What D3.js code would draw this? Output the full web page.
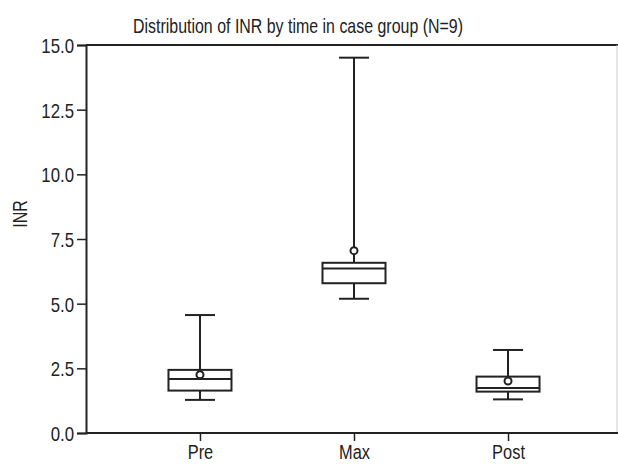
<!DOCTYPE html>
<html>
<head>
<meta charset="utf-8">
<script src="https://cdn.jsdelivr.net/npm/d3@7"></script>
<style>
  html, body { margin: 0; padding: 0; background: #fff; }
  svg { display: block; }
  text { font-family: "Liberation Sans", Arial, sans-serif; fill: #222; }
</style>
</head>
<body>
<svg id="chart" width="618" height="464"></svg>
<script>
const categories = ["Pre", "Max", "Post"];
const whiskerLow  = [1.28, 5.19, 1.30];
const q1Values    = [1.64, 5.79, 1.60];
const medianVals  = [2.09, 6.36, 1.74];
const q3Values    = [2.44, 6.58, 2.18];
const whiskerHigh = [4.56, 14.51, 3.21];
const meanValues  = [2.25, 7.05, 2.01];
const yTicks = [0, 2.5, 5, 7.5, 10, 12.5, 15];
const titleText = "Distribution of INR by time in case group (N=9)";
const yLabel = "INR";

const W = 618, H = 464;
const padL = 86, padT = 45, padB = 433, padR = 617;
const ink = "#222";

const svg = d3.select("#chart");

const y = d3.scaleLinear().domain([0, 15]).range([padB, padT]);
const x = d3.scalePoint().domain(categories).range([padL, 622]).padding(0.74);

const data = categories.map((c, i) => ({
  c, lo: whiskerLow[i], q1: q1Values[i], med: medianVals[i],
  q3: q3Values[i], hi: whiskerHigh[i], mean: meanValues[i]
}));

function condense(sel, k) {
  sel.each(function() {
    const w = this.getComputedTextLength();
    d3.select(this).attr("textLength", w * k).attr("lengthAdjust", "spacingAndGlyphs");
  });
}

// frame top and right
svg.append("line").attr("x1", padL).attr("x2", W).attr("y1", padT).attr("y2", padT)
  .attr("stroke", ink).attr("stroke-width", 2);
svg.append("line").attr("x1", padR).attr("x2", padR).attr("y1", padT).attr("y2", padB)
  .attr("stroke", "#ccc").attr("stroke-width", 1);

// y axis
const yAxis = svg.append("g").attr("transform", `translate(${padL},0)`)
  .call(d3.axisLeft(y).tickValues(yTicks).tickFormat(d3.format(".1f")).tickSize(9).tickPadding(3));
yAxis.select(".domain").attr("stroke", ink).attr("stroke-width", 2);
yAxis.selectAll(".tick line").attr("stroke", ink).attr("stroke-width", 1.5);
yAxis.selectAll(".tick text").attr("font-size", 21).attr("fill", ink)
  .style("font-family", "'Liberation Sans', Arial, sans-serif").attr("dy", "0.36em");
condense(yAxis.selectAll(".tick text"), 0.8);

// x axis
const xAxis = svg.append("g").attr("transform", `translate(0,${padB})`)
  .call(d3.axisBottom(x).tickSize(8).tickPadding(4).tickSizeOuter(0));
xAxis.select(".domain").attr("d", `M${padL},0H${W}`).attr("stroke", ink).attr("stroke-width", 2);
xAxis.selectAll(".tick line").attr("stroke", ink).attr("stroke-width", 1.5);
xAxis.selectAll(".tick text").attr("font-size", 20).attr("fill", ink)
  .style("font-family", "'Liberation Sans', Arial, sans-serif");
condense(xAxis.selectAll(".tick text"), 0.82);

// title
svg.append("text").attr("x", 298).attr("y", 33).attr("text-anchor", "middle")
  .attr("font-size", 21).attr("textLength", 330).attr("lengthAdjust", "spacingAndGlyphs")
  .text(titleText);

// y label
const yl = svg.append("text").attr("transform", "translate(27,214) rotate(-90)")
  .attr("text-anchor", "middle").attr("font-size", 20).text(yLabel);
condense(yl, 0.8);

// boxes
const boxW = 63, capW = 30;
const g = svg.append("g").selectAll("g").data(data).join("g");
g.append("line").attr("x1", d => x(d.c)).attr("x2", d => x(d.c))
  .attr("y1", d => y(d.hi)).attr("y2", d => y(d.q3)).attr("stroke", ink).attr("stroke-width", 2);
g.append("line").attr("x1", d => x(d.c)).attr("x2", d => x(d.c))
  .attr("y1", d => y(d.q1)).attr("y2", d => y(d.lo)).attr("stroke", ink).attr("stroke-width", 2);
g.append("line").attr("x1", d => x(d.c) - capW / 2).attr("x2", d => x(d.c) + capW / 2)
  .attr("y1", d => y(d.hi)).attr("y2", d => y(d.hi)).attr("stroke", ink).attr("stroke-width", 2);
g.append("line").attr("x1", d => x(d.c) - capW / 2).attr("x2", d => x(d.c) + capW / 2)
  .attr("y1", d => y(d.lo)).attr("y2", d => y(d.lo)).attr("stroke", ink).attr("stroke-width", 2);
g.append("rect").attr("x", d => x(d.c) - boxW / 2).attr("width", boxW)
  .attr("y", d => y(d.q3)).attr("height", d => y(d.q1) - y(d.q3))
  .attr("fill", "#fff").attr("stroke", ink).attr("stroke-width", 2);
g.append("line").attr("x1", d => x(d.c) - boxW / 2).attr("x2", d => x(d.c) + boxW / 2)
  .attr("y1", d => y(d.med)).attr("y2", d => y(d.med)).attr("stroke", ink).attr("stroke-width", 2);
g.append("circle").attr("cx", d => x(d.c)).attr("cy", d => y(d.mean)).attr("r", 3.5)
  .attr("fill", "#fff").attr("stroke", ink).attr("stroke-width", 2);
</script>
</body>
</html>
